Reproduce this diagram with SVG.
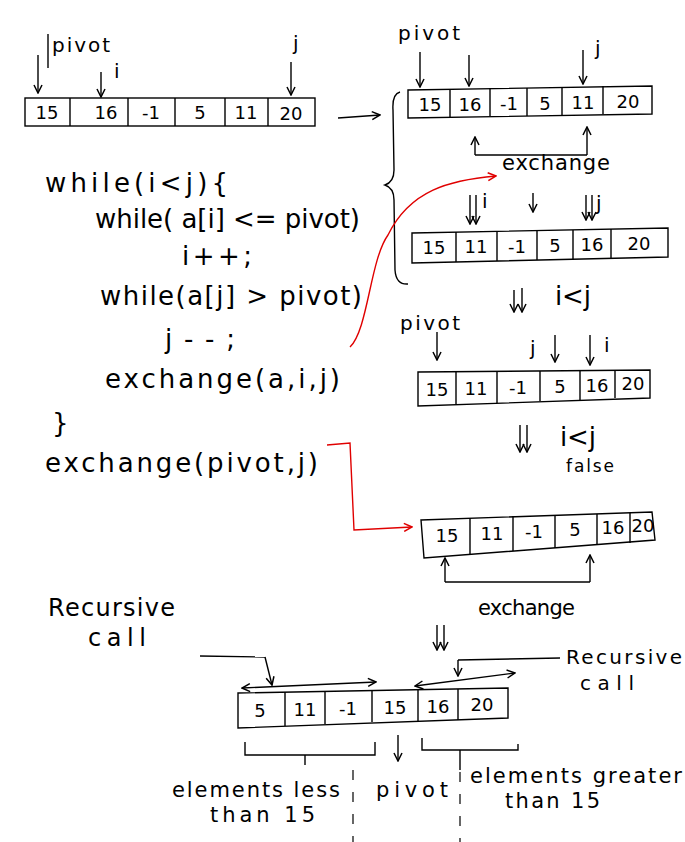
<svg xmlns="http://www.w3.org/2000/svg" width="685" height="842" viewBox="0 0 685 842">
<defs>
<marker id="ah" viewBox="0 0 10 10" refX="9" refY="5" markerWidth="10" markerHeight="10" markerUnits="userSpaceOnUse" orient="auto">
<path d="M1,1 L9,5 L1,9" fill="none" stroke="#000" stroke-width="1.5"/>
</marker>
<marker id="ahr" viewBox="0 0 10 10" refX="9" refY="5" markerWidth="10" markerHeight="10" markerUnits="userSpaceOnUse" orient="auto">
<path d="M1,1 L9,5 L1,9" fill="none" stroke="#e00000" stroke-width="1.5"/>
</marker>
<marker id="ahs" viewBox="0 0 10 10" refX="1" refY="5" markerWidth="10" markerHeight="10" markerUnits="userSpaceOnUse" orient="auto">
<path d="M9,1 L1,5 L9,9" fill="none" stroke="#000" stroke-width="1.5"/>
</marker>
</defs>
<style>
text{font-family:"DejaVu Sans","Liberation Sans",sans-serif;fill:#000}
.code{font-size:26px}
.lbl{font-size:20px}
.big{font-size:21px}
.num{font-size:18px;text-anchor:middle}
.cell{fill:none;stroke:#000;stroke-width:1.4}
.ln{fill:none;stroke:#000;stroke-width:1.4}
.arr{fill:none;stroke:#000;stroke-width:1.4;marker-end:url(#ah)}
.red{fill:none;stroke:#e00000;stroke-width:1.4;marker-end:url(#ahr)}
.dash{fill:none;stroke:#000;stroke-width:1.2;stroke-dasharray:10 12}
</style>
<rect width="685" height="842" fill="#fff"/>

<g id="array1">
<rect class="cell" x="25" y="98" width="290" height="28"/>
<path class="ln" d="M70,98V126M128,98V126M175,98V126M225,98V126M268,98V126"/>
<text class="num" x="47" y="119">15</text><text class="num" x="106" y="119">16</text><text class="num" x="151" y="119">-1</text><text class="num" x="200" y="119">5</text><text class="num" x="246" y="119">11</text><text class="num" x="291" y="120" font-size="21">20</text>
</g>
<g id="array1-labels">
<path class="ln" d="M48,34V68"/>
<text class="lbl" x="52" y="52" textLength="58" lengthAdjust="spacing">pivot</text>
<text class="lbl" x="114" y="78">i</text>
<text class="lbl" x="293" y="50">j</text>
</g>

<g id="array2">
<path class="cell" d="M408,90 L652,86 L652,114 L408,118 Z"/>
<path class="ln" d="M450,89V117M490,88V116M527,88V116M562,87V115M603,86V114"/>
<text class="num" x="430" y="111">15</text><text class="num" x="470" y="111">16</text><text class="num" x="509" y="110">-1</text><text class="num" x="545" y="110">5</text><text class="num" x="583" y="109">11</text><text class="num" x="628" y="108">20</text>
</g>
<g id="array2-labels">
<text class="lbl" x="398" y="40" textLength="62" lengthAdjust="spacing">pivot</text>
<text class="lbl" x="595" y="55">j</text>
<text class="big" x="502" y="170" textLength="108" lengthAdjust="spacing">exchange</text>
</g>

<g id="brace">
<path class="ln" d="M400,92 Q392,94 393,110 L394,170 Q394,182 385,185 Q394,188 394,200 L395,270 Q396,285 408,284"/>
</g>

<g id="array3">
<path class="cell" d="M412,233 L668,228 L668,257 L412,263 Z"/>
<path class="ln" d="M456,232V262M497,231V261M537,230V260M573,230V260M611,229V259"/>
<text class="num" x="434" y="254">15</text><text class="num" x="476" y="253">11</text><text class="num" x="517" y="253">-1</text><text class="num" x="555" y="252">5</text><text class="num" x="592" y="251">16</text><text class="num" x="639" y="250">20</text>
</g>
<g id="array3-labels">
<text class="lbl" x="482" y="208">i</text>
<text class="lbl" x="596" y="210">j</text>
<text class="code" x="555" y="305" textLength="36" lengthAdjust="spacing">i&lt;j</text>
<text class="lbl" x="400" y="330" textLength="60" lengthAdjust="spacing">pivot</text>
</g>

<g id="array4">
<path class="cell" d="M418,372 L650,370 L650,398 L418,406 Z"/>
<path class="ln" d="M456,372V404M497,371V403M540,371V401M580,371V400M615,370V398"/>
<text class="num" x="437" y="396">15</text><text class="num" x="476" y="395">11</text><text class="num" x="518" y="394">-1</text><text class="num" x="560" y="393">5</text><text class="num" x="597" y="392">16</text><text class="num" x="633" y="390" font-size="14">20</text>
</g>
<g id="array4-labels">
<text class="lbl" x="530" y="355">j</text>
<text class="lbl" x="604" y="352">i</text>
<text class="code" x="560" y="446" textLength="36" lengthAdjust="spacing">i&lt;j</text>
<text x="566" y="472" font-size="17" textLength="48" lengthAdjust="spacing">false</text>
</g>

<g id="array5">
<path class="cell" d="M421,520 L652,512 L655,540 L424,558 Z"/>
<path class="ln" d="M470,518V554M513,516V551M555,515V548M597,514V545M630,513V543"/>
<text class="num" x="447" y="542">15</text><text class="num" x="492" y="540">11</text><text class="num" x="534" y="538">-1</text><text class="num" x="575" y="536">5</text><text class="num" x="613" y="534">16</text><text class="num" x="643" y="532" font-size="14">20</text>
</g>
<g id="array5-labels">
<text class="big" x="478" y="615" textLength="97" lengthAdjust="spacing">exchange</text>
</g>

<g id="array6">
<path class="cell" d="M238,693 L508,688 L508,718 L238,728 Z"/>
<path class="ln" d="M285,692V726M325,691V724M372,690V722M418,690V721M458,689V720"/>
<text class="num" x="260" y="717">5</text><text class="num" x="305" y="716">11</text><text class="num" x="348" y="715">-1</text><text class="num" x="395" y="714">15</text><text class="num" x="438" y="713">16</text><text class="num" x="482" y="711">20</text>
</g>

<g id="code">
<text class="code" x="45" y="192" textLength="183" lengthAdjust="spacing">while(i&lt;j){</text>
<text class="code" x="95" y="228" textLength="265" lengthAdjust="spacing">while( a[i] &lt;= pivot)</text>
<text class="code" x="182" y="265" textLength="70" lengthAdjust="spacing">i++;</text>
<text class="code" x="100" y="305" textLength="262" lengthAdjust="spacing">while(a[j] &gt; pivot)</text>
<text class="code" x="165" y="348" textLength="70" lengthAdjust="spacing">j--;</text>
<text class="code" x="105" y="388" textLength="235" lengthAdjust="spacing">exchange(a,i,j)</text>
<text class="code" x="52" y="432">}</text>
<text class="code" x="45" y="472" textLength="273" lengthAdjust="spacing">exchange(pivot,j)</text>
</g>

<g id="recursive-left">
<text x="48" y="616" font-size="24" textLength="127" lengthAdjust="spacing">Recursive</text>
<text x="88" y="646" font-size="24" textLength="58" lengthAdjust="spacing">call</text>
</g>
<g id="recursive-right">
<text class="lbl" x="566" y="664" textLength="116" lengthAdjust="spacing">Recursive</text>
<text class="lbl" x="580" y="690" textLength="54" lengthAdjust="spacing">call</text>
</g>
<g id="bottom-labels">
<text class="big" x="172" y="797" textLength="168" lengthAdjust="spacing">elements less</text>
<text class="big" x="210" y="822" textLength="105" lengthAdjust="spacing">than 15</text>
<text class="big" x="376" y="797" textLength="72" lengthAdjust="spacing">pivot</text>
<text class="big" x="470" y="783" textLength="212" lengthAdjust="spacing">elements greater</text>
<text class="big" x="505" y="808" textLength="95" lengthAdjust="spacing">than 15</text>
</g>

<g id="connectors">
<path class="arr" d="M38,55V93"/>
<path class="arr" d="M101,72V97"/>
<path class="arr" d="M291,62V95"/>
<path class="arr" d="M338,118L380,115"/>
<path class="arr" d="M420,52V87"/>
<path class="arr" d="M469,55V86"/>
<path class="arr" d="M583,50V84"/>
<path class="arr" d="M475,155V137"/>
<path class="ln" d="M475,155H587"/>
<path class="arr" d="M587,155V127"/>
<path class="red" d="M350,347 C368,330 370,260 388,235 C410,190 450,180 496,176"/>
<path class="arr" d="M470,195V224"/>
<path class="arr" d="M476,195V224"/>
<path class="arr" d="M533,193V212"/>
<path class="arr" d="M586,195V220"/>
<path class="arr" d="M592,195V220"/>
<path class="arr" d="M514,290V312"/>
<path class="arr" d="M522,288V312"/>
<path class="arr" d="M437,332V360"/>
<path class="arr" d="M555,335V362"/>
<path class="arr" d="M590,335V365"/>
<path class="arr" d="M520,425V452"/>
<path class="arr" d="M527,425V452"/>
<path class="red" d="M327,445 L350,443 L354,530 L412,527"/>
<path class="arr" d="M445,582V558"/>
<path class="ln" d="M445,582H590"/>
<path class="arr" d="M590,582V555"/>
<path class="arr" d="M437,625V650"/>
<path class="arr" d="M444,625V650"/>
<path class="ln" d="M200,656L265,657"/>
<path class="arr" d="M265,657L272,685"/>
<path d="M242,688L376,682" fill="none" stroke="#000" stroke-width="1.4" marker-start="url(#ahs)" marker-end="url(#ah)"/>
<path class="ln" d="M560,658L458,660"/>
<path class="arr" d="M458,660V676"/>
<path d="M415,686L515,673" fill="none" stroke="#000" stroke-width="1.4" marker-start="url(#ahs)" marker-end="url(#ah)"/>
<path class="ln" d="M245,742V755H375V742M305,755V765"/>
<path class="arr" d="M398,735V761"/>
<path class="ln" d="M422,738V750H518V744M460,750V770"/>
<path class="dash" d="M353,770V842"/>
<path class="dash" d="M460,772V842"/>
</g>
</svg>
